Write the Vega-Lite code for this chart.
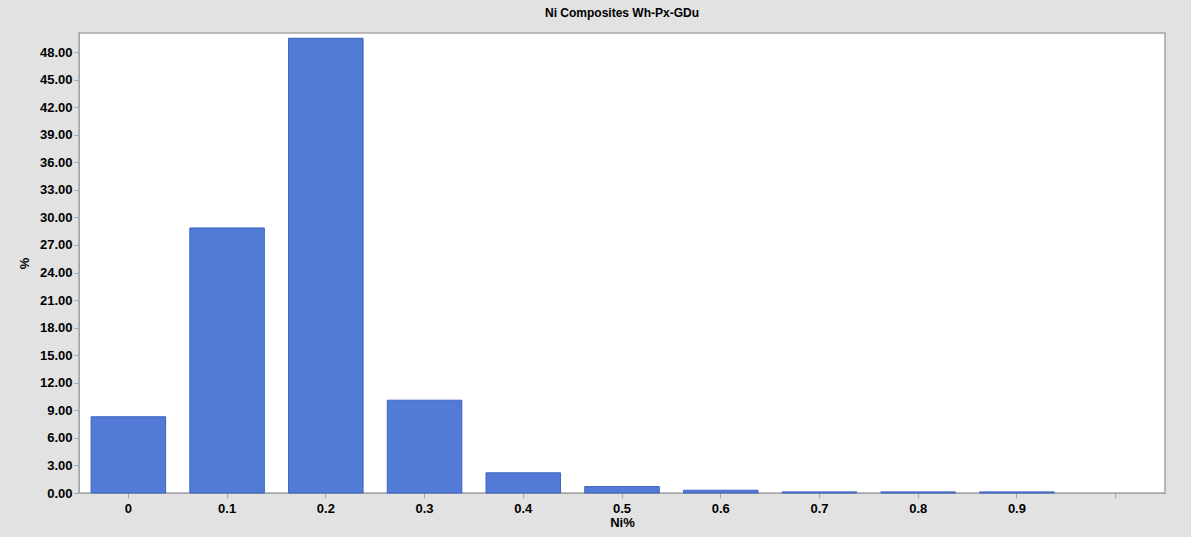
{
  "$schema": "https://vega.github.io/schema/vega-lite/v6.json",
  "width": 1086,
  "height": 460,
  "autosize": {"type": "none"},
  "padding": {"left": 79, "top": 33, "right": 26, "bottom": 44},
  "background": "#e2e2e2",
  "title": {
    "text": "Ni Composites Wh-Px-GDu",
    "font": "Liberation Sans",
    "fontSize": 12,
    "fontWeight": "bold",
    "color": "#000000",
    "anchor": "middle",
    "offset": 13
  },
  "config": {
    "view": {"fill": "#ffffff", "stroke": "#a6a6a6", "strokeWidth": 1.5},
    "axis": {
      "labelFont": "Liberation Sans",
      "labelFontSize": 13,
      "labelFontWeight": "bold",
      "labelColor": "#000000",
      "titleFont": "Liberation Sans",
      "titleFontSize": 13,
      "titleFontWeight": "bold",
      "titleColor": "#000000",
      "domainColor": "#a6a6a6",
      "tickColor": "#a6a6a6",
      "tickSize": 5,
      "grid": false
    }
  },
  "data": {
    "values": [
      {"Ni": "0", "pct": 8.3},
      {"Ni": "0.1", "pct": 28.85},
      {"Ni": "0.2", "pct": 49.5},
      {"Ni": "0.3", "pct": 10.1},
      {"Ni": "0.4", "pct": 2.2},
      {"Ni": "0.5", "pct": 0.7},
      {"Ni": "0.6", "pct": 0.3},
      {"Ni": "0.7", "pct": 0.12},
      {"Ni": "0.8", "pct": 0.12},
      {"Ni": "0.9", "pct": 0.12}
    ]
  },
  "mark": {"type": "bar", "color": "#517bd7", "stroke": "#3d64bf", "strokeWidth": 1},
  "encoding": {
    "x": {
      "field": "Ni",
      "type": "ordinal",
      "sort": null,
      "scale": {
        "domain": ["0", "0.1", "0.2", "0.3", "0.4", "0.5", "0.6", "0.7", "0.8", "0.9", "1"],
        "paddingInner": 0.245,
        "paddingOuter": 0.1225
      },
      "axis": {
        "title": "Ni%",
        "labelAngle": 0,
        "labelExpr": "datum.value == '1' ? '' : datum.value",
        "labelPadding": 4,
        "titlePadding": 1
      }
    },
    "y": {
      "field": "pct",
      "type": "quantitative",
      "scale": {"domain": [0, 50.07], "nice": false},
      "axis": {
        "title": "%",
        "values": [0, 3, 6, 9, 12, 15, 18, 21, 24, 27, 30, 33, 36, 39, 42, 45, 48],
        "format": ".2f",
        "labelPadding": 2,
        "titlePadding": 8
      }
    }
  }
}
